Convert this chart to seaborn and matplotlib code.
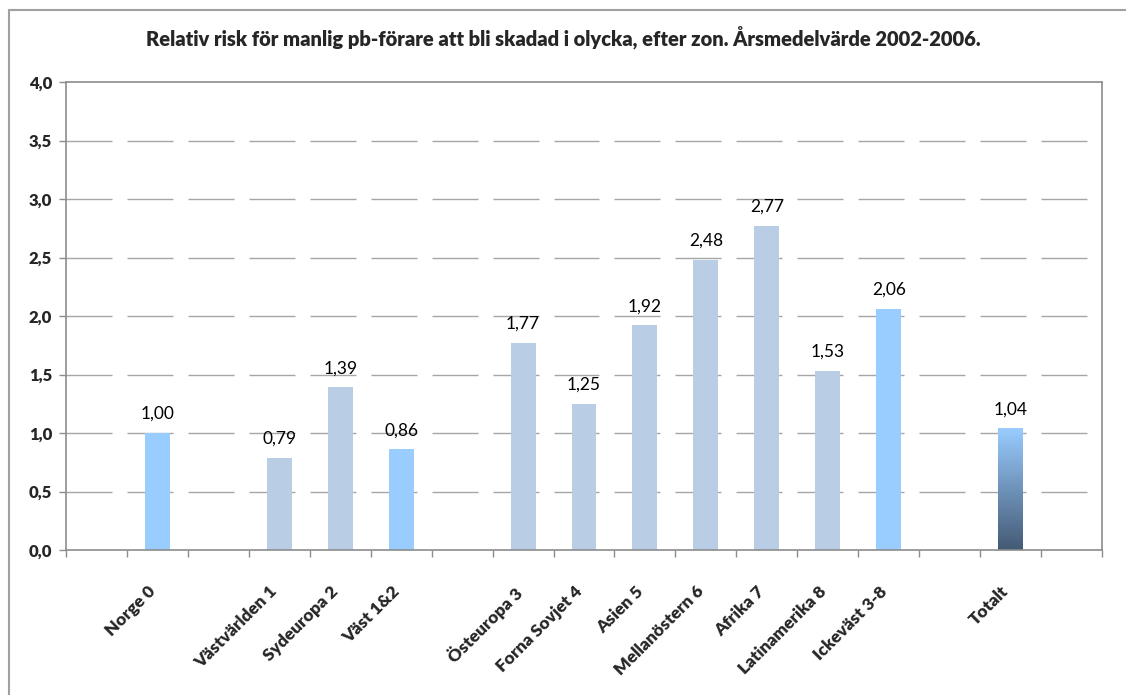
import numpy as np
import pandas as pd
import matplotlib
matplotlib.use("Agg")
import matplotlib.pyplot as plt
import matplotlib.transforms as mtransforms
from matplotlib.lines import Line2D
from matplotlib.colors import LinearSegmentedColormap
import seaborn as sns

# ---- data ----
categories = ["Norge 0", "Västvärlden 1", "Sydeuropa 2", "Väst 1&2",
              "Östeuropa 3", "Forna Sovjet 4", "Asien 5", "Mellanöstern 6",
              "Afrika 7", "Latinamerika 8", "Ickeväst 3-8", "Totalt"]
values = [1.00, 0.79, 1.39, 0.86, 1.77, 1.25, 1.92, 2.48, 2.77, 1.53, 2.06, 1.04]
kinds = ["sum", "zone", "zone", "sum", "zone", "zone", "zone", "zone",
         "zone", "zone", "sum", "total"]
# category order on the axis, with empty spacer slots
slot_order = [" ", "Norge 0", "  ", "Västvärlden 1", "Sydeuropa 2", "Väst 1&2",
              "   ", "Östeuropa 3", "Forna Sovjet 4", "Asien 5", "Mellanöstern 6",
              "Afrika 7", "Latinamerika 8", "Ickeväst 3-8", "    ", "Totalt", "     "]
title = "Relativ risk för manlig pb-förare att bli skadad i olycka, efter zon. Årsmedelvärde 2002-2006."
yticks = [0.0, 0.5, 1.0, 1.5, 2.0, 2.5, 3.0, 3.5, 4.0]

df = pd.DataFrame({"cat": categories, "val": values, "kind": kinds})

sns.set_theme(style="white")
plt.rcParams["font.family"] = ["Lato", "DejaVu Sans"]

fig = plt.figure(figsize=(11.26, 6.95), dpi=100)
ax = fig.add_axes([66 / 1126, 1 - 550 / 695, (1102 - 66) / 1126, (550 - 82) / 695])

palette = {"zone": "#B9CDE5", "sum": "#99CCFF", "total": "#99CCFF"}
sns.barplot(data=df, x="cat", y="val", hue="kind", order=slot_order,
            palette=palette, dodge=False, width=0.41, legend=False, ax=ax,
            saturation=1, zorder=2)

nslots = len(slot_order)
ax.set_yticks(yticks)
ax.set_yticklabels([f"{t:.1f}".replace(".", ",") for t in yticks],
                   fontweight="heavy", fontsize=12)
ax.set_xlabel("")
ax.set_ylabel("")

# gradient for Totalt bar
cmap = LinearSegmentedColormap.from_list("tot", ["#445A75", "#99CCFF"])
idx = slot_order.index("Totalt")
for p in ax.patches:
    if p.get_height() > 0:
        x0 = p.get_x()
        w = p.get_width()
        h = p.get_height()
        xc = x0 + w / 2
        if abs(xc - idx) < 0.01:
            p.set_facecolor("none")
            grad = np.linspace(0, 1, 256).reshape(-1, 1)
            im = ax.imshow(grad, cmap=cmap, origin="lower", aspect="auto",
                           extent=[x0, x0 + w, 0, h], zorder=2)
            im.set_clip_path(p)
        p.set_edgecolor("none")
        ax.annotate(f"{h:.2f}".replace(".", ","), (xc, h), xytext=(0, 8),
                    textcoords="offset points", ha="center", va="bottom",
                    fontsize=12.5, color="#000000")
ax.set_xlim(-0.5, nslots - 0.5)
ax.set_ylim(0, 4.0)

# grid lines: one dash per category slot (dash 46px of a 61px slot)
dash_frac = 46 / 61
slot_starts = np.arange(nslots) - 0.5
for t in yticks[1:-1]:
    ax.hlines(np.full(nslots, t), slot_starts, slot_starts + dash_frac,
              colors="#a6a6a6", lw=1, zorder=1)

# x ticks at slot boundaries, labels at slot centres
ax.set_xticks(np.arange(nslots))
ax.set_xticklabels([s.strip() for s in slot_order], rotation=45, ha="right",
                   rotation_mode="anchor", fontweight="heavy", fontsize=12.5)
ax.tick_params(axis="x", length=0, pad=24)
shift = mtransforms.ScaledTranslation(-10 / 100, 0, fig.dpi_scale_trans)
for lab in ax.get_xticklabels():
    lab.set_transform(lab.get_transform() + shift)
ax.set_xticks(np.arange(nslots + 1) - 0.5, minor=True)
ax.tick_params(axis="x", which="minor", length=5, color="#8c8c8c", width=1,
               direction="out", bottom=True)
ax.tick_params(axis="y", length=5, color="#8c8c8c", width=1, left=True,
               direction="out", pad=5)
for s in ax.spines.values():
    s.set_color("#8c8c8c")
    s.set_linewidth(1.2)
    s.set_zorder(3)

fig.text(0.5, 1 - 38 / 695, title, ha="center", va="center",
         fontweight="heavy", fontsize=14.5)

# outer chart frame
fig.add_artist(Line2D([8.5 / 1126, 8.5 / 1126], [0, 1 - 10 / 695],
                      color="#a0a0a0", lw=1.5, transform=fig.transFigure))
fig.add_artist(Line2D([8.5 / 1126, 1], [1 - 10 / 695, 1 - 10 / 695],
                      color="#a0a0a0", lw=1.5, transform=fig.transFigure))

fig.savefig("out.png", dpi=100)
